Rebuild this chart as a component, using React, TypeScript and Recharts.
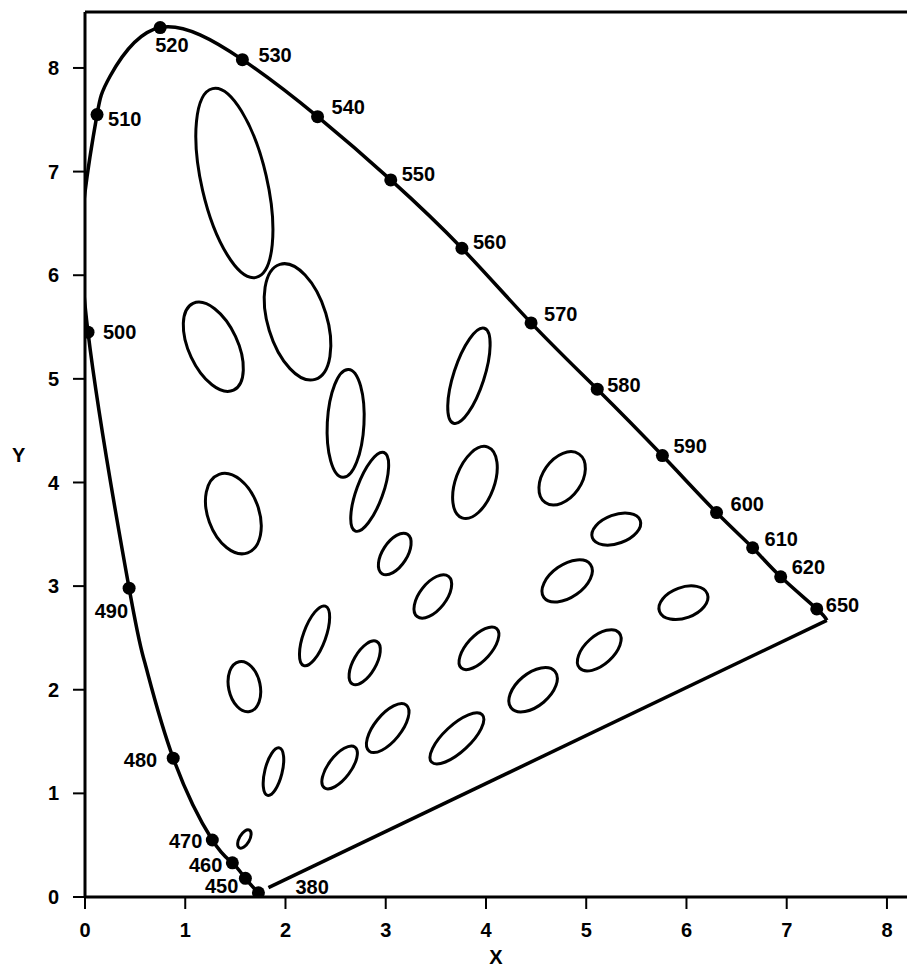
import { ComposedChart, Line, Scatter, XAxis, YAxis, ReferenceLine, Label } from 'recharts'

const W = 907
const H = 970
const TOP = 12
const Y_AXIS_W = 85
const X_AXIS_H = 73
const X_MAX = 8.2
const Y_MAX = 8.54
// pixels per chart unit, used only to size the ellipses
const PX = ((W - Y_AXIS_W) / X_MAX + (H - TOP - X_AXIS_H) / Y_MAX) / 2

const FONT = '"Liberation Sans", Arial, sans-serif'

const axisTicks = [0, 1, 2, 3, 4, 5, 6, 7, 8]

// spectral locus from 380 round to 650 nm; '' marks a point on the curve without a dot
const locusNm = ['380', '450', '460', '470', '480', '', '490', '500', '', '510', '', '520', '530', '540', '550', '560', '570', '580', '590', '600', '610', '620', '650', '']
const locusX = [1.73, 1.6, 1.47, 1.27, 0.88, 0.6, 0.44, 0.03, 0.0, 0.12, 0.25, 0.75, 1.57, 2.32, 3.05, 3.76, 4.45, 5.11, 5.76, 6.3, 6.66, 6.94, 7.3, 7.4]
const locusY = [0.04, 0.18, 0.33, 0.55, 1.34, 2.25, 2.98, 5.45, 6.8, 7.55, 7.92, 8.39, 8.08, 7.53, 6.92, 6.26, 5.54, 4.9, 4.26, 3.71, 3.37, 3.09, 2.78, 2.67]

// purple line, red end back towards the blue end
const purpleX = [7.4, 1.83]
const purpleY = [2.67, 0.09]

// ellipses: centre, half long axis, half short axis, tilt of long axis from vertical (deg, + leans right)
const ellX = [1.49, 2.12, 1.28, 2.6, 2.84, 1.48, 3.09, 3.47, 3.83, 3.89, 4.76, 5.3, 4.81, 5.97, 3.93, 5.13, 4.47, 3.71, 2.29, 2.79, 1.59, 1.88, 2.54, 3.02, 1.59]
const ellY = [6.89, 5.55, 5.31, 4.57, 3.91, 3.7, 3.31, 2.9, 5.03, 4.0, 4.04, 3.55, 3.05, 2.84, 2.4, 2.38, 2.0, 1.53, 2.52, 2.26, 2.03, 1.21, 1.25, 1.63, 0.56]
const ellA = [0.95, 0.59, 0.47, 0.53, 0.41, 0.41, 0.23, 0.25, 0.49, 0.37, 0.29, 0.25, 0.28, 0.25, 0.26, 0.26, 0.28, 0.34, 0.31, 0.24, 0.25, 0.24, 0.25, 0.29, 0.1]
const ellB = [0.32, 0.29, 0.24, 0.18, 0.13, 0.25, 0.12, 0.13, 0.15, 0.19, 0.19, 0.14, 0.16, 0.15, 0.12, 0.14, 0.16, 0.13, 0.11, 0.11, 0.155, 0.085, 0.11, 0.13, 0.05]
const ellTilt = [-13, -17, -25, 3, 20, -20, 33, 38, 18, 20, 35, 70, 55, 70, 42, 48, 50, 47, 20, 30, -12, 14, 37, 39, 30]

// label placement next to each dot: dx, dy (baseline), anchor
const labelSpot: Record<string, [number, number, 'start' | 'end']> = {
  '380': [37, 1, 'start'],
  '450': [-7, 15, 'end'],
  '460': [-10, 9, 'end'],
  '470': [-10, 8, 'end'],
  '480': [-16, 9, 'end'],
  '490': [-1, 30, 'end'],
  '500': [15, 7, 'start'],
  '510': [11, 11, 'start'],
  '520': [-5, 24, 'start'],
  '530': [16, 2, 'start'],
  '540': [14, -3, 'start'],
  '550': [11, 1, 'start'],
  '560': [11, 1, 'start'],
  '570': [13, -2, 'start'],
  '580': [10, 3, 'start'],
  '590': [11, -3, 'start'],
  '600': [14, -2, 'start'],
  '610': [12, -2, 'start'],
  '620': [11, -3, 'start'],
  '650': [9, 3, 'start'],
}

const locus = locusX.map((x, i) => ({ x, y: locusY[i], nm: locusNm[i] }))
const dots = locus.filter((p) => p.nm !== '')
const purple = purpleX.map((x, i) => ({ x, y: purpleY[i] }))
const ellipses = ellX.map((x, i) => ({ x, y: ellY[i], a: ellA[i], b: ellB[i], tilt: ellTilt[i] }))

function EllipseMark(props: any) {
  const { cx, cy, payload } = props
  return (
    <ellipse
      cx={cx}
      cy={cy}
      rx={payload.b * PX}
      ry={payload.a * PX}
      transform={`rotate(${payload.tilt} ${cx} ${cy})`}
      fill="none"
      stroke="#000"
      strokeWidth={3}
    />
  )
}

function WaveDot(props: any) {
  const { cx, cy, payload } = props
  const [dx, dy, anchor] = labelSpot[payload.nm]
  return (
    <g>
      <circle cx={cx} cy={cy} r={6.5} fill="#000" />
      <text
        x={cx + dx}
        y={cy + dy}
        textAnchor={anchor}
        fontFamily={FONT}
        fontWeight={700}
        fontSize={20}
        fill="#000"
      >
        {payload.nm}
      </text>
    </g>
  )
}

const tickStyle = { fill: '#000', fontSize: 20, fontWeight: 700, fontFamily: FONT }

export default function App() {
  return (
    <div style={{ position: 'absolute', left: 0, top: 0, background: '#fff' }}>
      <ComposedChart width={W} height={H} margin={{ top: TOP, right: 0, bottom: 0, left: 0 }}>
        <XAxis
          type="number"
          dataKey="x"
          domain={[0, X_MAX]}
          ticks={axisTicks}
          allowDataOverflow
          height={X_AXIS_H}
          tickSize={12}
          tickMargin={14}
          axisLine={{ stroke: '#000', strokeWidth: 3 }}
          tickLine={{ stroke: '#000', strokeWidth: 2 }}
          tick={tickStyle}
        >
          <Label value="X" position="insideBottom" offset={6} fill="#000" fontSize={20} fontWeight={700} fontFamily={FONT} />
        </XAxis>
        <YAxis
          type="number"
          dataKey="y"
          domain={[0, Y_MAX]}
          ticks={axisTicks}
          allowDataOverflow
          width={Y_AXIS_W}
          tickSize={12}
          tickMargin={14}
          axisLine={{ stroke: '#000', strokeWidth: 3 }}
          tickLine={{ stroke: '#000', strokeWidth: 2 }}
          tick={tickStyle}
        >
          <Label value="Y" position="insideLeft" offset={12} fill="#000" fontSize={20} fontWeight={700} fontFamily={FONT} />
        </YAxis>
        <ReferenceLine y={Y_MAX} stroke="#000" strokeWidth={3} />
        <Line
          data={locus}
          dataKey="y"
          type="natural"
          stroke="#000"
          strokeWidth={3.5}
          dot={false}
          activeDot={false}
          isAnimationActive={false}
        />
        <Line
          data={purple}
          dataKey="y"
          type="linear"
          stroke="#000"
          strokeWidth={3.5}
          dot={false}
          activeDot={false}
          isAnimationActive={false}
        />
        <Scatter data={ellipses} dataKey="y" shape={EllipseMark} isAnimationActive={false} />
        <Scatter data={dots} dataKey="y" shape={WaveDot} isAnimationActive={false} />
      </ComposedChart>
    </div>
  )
}
